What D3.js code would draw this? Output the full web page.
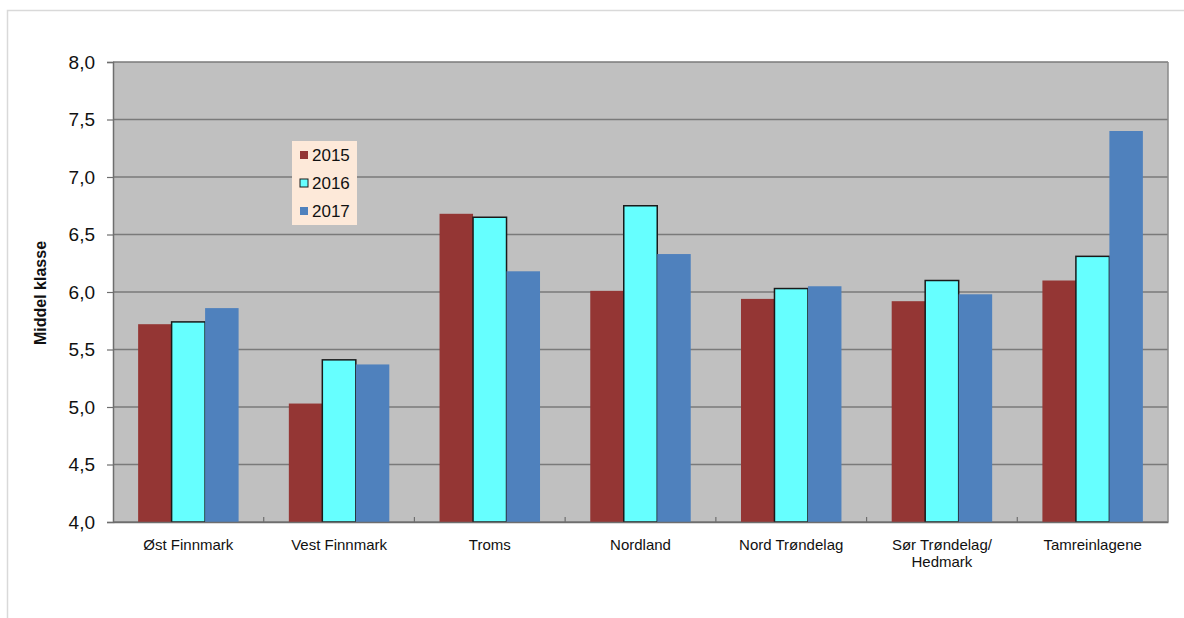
<!DOCTYPE html>
<html><head><meta charset="utf-8">
<script src="https://cdn.jsdelivr.net/npm/d3@7"></script>
<style>body{margin:0;background:#fff;} svg{display:block;font-family:"Liberation Sans",Arial,sans-serif;}</style>
</head><body>
<svg id="c" width="1184" height="618"></svg>
<script>
const categories = ["Øst Finnmark","Vest Finnmark","Troms","Nordland","Nord Trøndelag","Sør Trøndelag/\nHedmark","Tamreinlagene"];
const seriesNames = ["2015","2016","2017"];
const v2015 = [5.72,5.03,6.68,6.01,5.94,5.92,6.10];
const v2016 = [5.74,5.41,6.65,6.75,6.03,6.10,6.31];
const v2017 = [5.86,5.37,6.18,6.33,6.05,5.98,7.40];
const yTicks = [4.0,4.5,5.0,5.5,6.0,6.5,7.0,7.5,8.0];
const seriesValues = [v2015,v2016,v2017];
const colors = ["#943634","#66FFFF","#4F81BD"];

const svg = d3.select("#c");
const L=113,R=1168,T=62,B=522;
svg.append("rect").attr("x",7.5).attr("y",10.5).attr("width",1300).attr("height",800)
  .attr("fill","#fff").attr("stroke","#d9d9d9").attr("stroke-width",1.5);

const x = d3.scaleBand().domain(categories).range([L,R]).padding(0);
const xs = d3.scaleBand().domain(seriesNames).range([x.bandwidth()*0.1667, x.bandwidth()*0.8333]).padding(0);
const y = d3.scaleLinear().domain([4,8]).range([B,T]);

svg.append("rect").attr("x",L).attr("y",T).attr("width",R-L).attr("height",B-T).attr("fill","#C0C0C0");
// gridlines
svg.append("g").selectAll("line").data(yTicks).join("line")
  .attr("x1",L).attr("x2",R).attr("y1",d=>y(d)).attr("y2",d=>y(d))
  .attr("stroke","#7a7a7a").attr("stroke-width",1.5);
// right border
svg.append("line").attr("x1",R).attr("x2",R).attr("y1",T).attr("y2",B).attr("stroke","#8a8a8a").attr("stroke-width",1.5);

// bars
seriesNames.forEach((s,si)=>{
  svg.append("g").selectAll("rect").data(categories).join("rect")
    .attr("x",c=>x(c)+xs(s)).attr("width",xs.bandwidth())
    .attr("y",(c,i)=>y(seriesValues[si][i])).attr("height",(c,i)=>B-y(seriesValues[si][i]))
    .attr("fill",colors[si])
    .attr("stroke", si===1 ? "#1a1a1a" : "none").attr("stroke-width",1.5);
});

// y axis
const ya = svg.append("g").attr("transform",`translate(${L},0)`)
  .call(d3.axisLeft(y).tickValues(yTicks).tickSize(6).tickPadding(12).tickFormat(d=>d3.format(".1f")(d).replace(".",",")));
ya.select(".domain").attr("stroke","#6e6e6e").attr("stroke-width",1.5);
ya.selectAll(".tick line").attr("stroke","#6e6e6e").attr("stroke-width",1.2);
ya.selectAll("text").attr("font-size",19).attr("fill","#111").attr("font-family","Liberation Sans, Arial, sans-serif");

// x axis
const xa = svg.append("g").attr("transform",`translate(0,${B})`)
  .call(d3.axisBottom(x).tickSize(0).tickFormat(""));
xa.select(".domain").attr("stroke","#6e6e6e").attr("stroke-width",1.5);
// category boundary ticks (inward)
svg.append("g").selectAll("line").data(categories.slice(1)).join("line")
  .attr("x1",c=>x(c)).attr("x2",c=>x(c)).attr("y1",B-5).attr("y2",B)
  .attr("stroke","#6e6e6e").attr("stroke-width",1.2);
// labels
const lab = svg.append("g").selectAll("text").data(categories).join("text")
  .attr("x",c=>x(c)+x.bandwidth()/2).attr("y",B+28)
  .attr("text-anchor","middle").attr("font-size",15).attr("fill","#111");
lab.each(function(c){
  const lines=c.split("\n");
  d3.select(this).selectAll("tspan").data(lines).join("tspan")
    .attr("x",x(c)+x.bandwidth()/2).attr("dy",(d,i)=>i===0?0:17).text(d=>d);
});

// y title
svg.append("text").attr("transform","translate(46,293) rotate(-90)")
  .attr("text-anchor","middle").attr("font-size",16).attr("font-weight","bold").attr("fill","#111")
  .text("Middel klasse");

// legend
const lg = svg.append("g");
lg.append("rect").attr("x",292).attr("y",141).attr("width",65).attr("height",84).attr("fill","#FDE9D9");
seriesNames.forEach((s,i)=>{
  const cy = 155 + i*28;
  lg.append("rect").attr("x",300).attr("y",cy-4).attr("width",8).attr("height",8)
    .attr("fill",colors[i]).attr("stroke",i===1?"#1a1a1a":"none").attr("stroke-width",1);
  lg.append("text").attr("x",312).attr("y",cy+6).attr("font-size",17).attr("fill","#111").text(s);
});
</script>
</body></html>
